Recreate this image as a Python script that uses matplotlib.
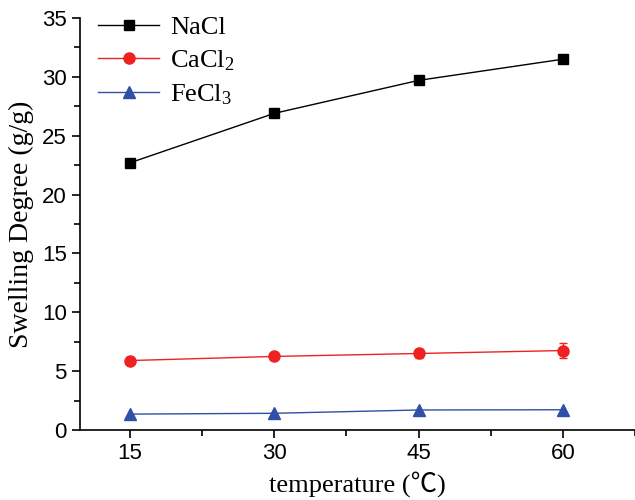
import numpy as np
from matplotlib import pyplot as plt
from matplotlib.ticker import MultipleLocator

plt.rcParams['mathtext.fontset'] = 'custom'
plt.rcParams['mathtext.rm'] = 'Liberation Serif'
plt.rcParams['mathtext.it'] = 'Liberation Serif:italic'

temperature = [15, 30, 45, 60]
nacl = [22.7, 26.9, 29.7, 31.5]
cacl2 = [5.9, 6.25, 6.5, 6.75]
cacl2_err = [0.3, 0.15, 0.4, 0.65]
fecl3 = [1.35, 1.42, 1.7, 1.72]
fecl3_err = [0.15, 0.1, 0.3, 0.3]

red = '#ee2222'
blue = '#3050a8'

fig = plt.figure(figsize=(6.35, 5), dpi=100)
ax = fig.add_axes([0.126, 0.14, 0.874, 0.824])

ax.errorbar(temperature, cacl2, yerr=cacl2_err, fmt='none', ecolor=red, lw=1, capsize=3)
ax.errorbar(temperature, fecl3, yerr=fecl3_err, fmt='none', ecolor=blue, lw=1, capsize=0)
ax.plot(temperature, nacl, color='black', marker='s', markersize=7, lw=1, label='NaCl')
ax.plot(temperature, cacl2, color=red, marker='o', markersize=8, lw=1, label='CaCl$_2$')
ax.plot(temperature, fecl3, color=blue, marker='^', markersize=9, lw=1, label='FeCl$_3$')

ax.set_xlim(9.8, 67.5)
ax.set_ylim(0, 35)
ax.set_xticks(temperature)
ax.xaxis.set_minor_locator(MultipleLocator(7.5))
ax.yaxis.set_major_locator(MultipleLocator(5))
ax.yaxis.set_minor_locator(MultipleLocator(2.5))
ax.tick_params(which='major', direction='out', length=6, width=1.2, labelsize=16)
ax.tick_params(which='minor', direction='out', length=4, width=1.2)
for lab in ax.get_xticklabels() + ax.get_yticklabels():
    lab.set_fontfamily('Liberation Sans')

ax.spines['top'].set_visible(False)
ax.spines['right'].set_visible(False)
ax.spines['left'].set_linewidth(1.2)
ax.spines['bottom'].set_linewidth(1.2)

ax.set_xlabel('temperature (\u2103)', fontsize=19,
              family=['Liberation Serif', 'Noto Sans CJK SC'], labelpad=5)
ax.set_ylabel('Swelling Degree (g/g)', fontsize=20, family='Liberation Serif', labelpad=6)

leg = ax.legend(loc='upper left', frameon=False, prop={'family': 'Liberation Serif', 'size': 19},
                handlelength=2.3, handletextpad=0.4, bbox_to_anchor=(0.0, 1.05),
                labelspacing=0.35, borderaxespad=0.3)

fig.savefig('out.png', dpi=100)
